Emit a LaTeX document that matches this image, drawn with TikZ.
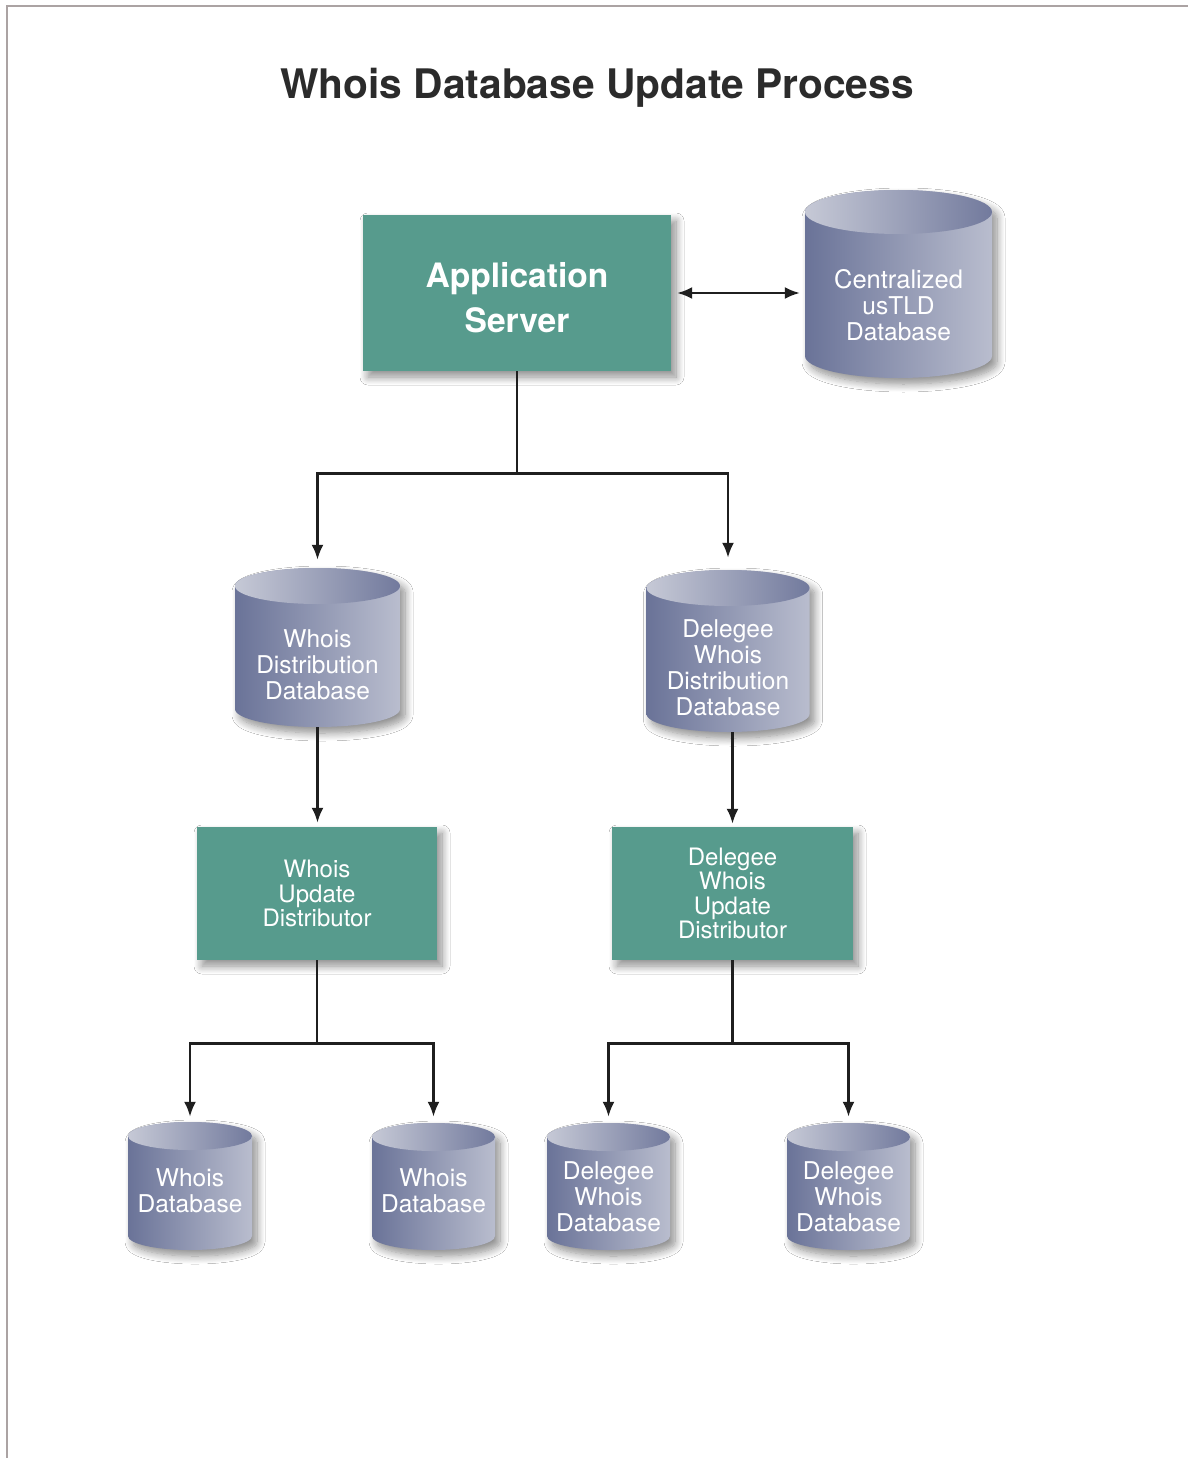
\documentclass[tikz,border=0pt]{standalone}
\usepackage{fontspec}
\setmainfont{TeX Gyre Heros}
\usetikzlibrary{arrows.meta,shadows.blur}
\definecolor{boxteal}{HTML}{579B8D}
\definecolor{cylL}{HTML}{6A7398}
\definecolor{cylR}{HTML}{B9BDCE}
\definecolor{topL}{HTML}{C6C9D6}
\definecolor{topR}{HTML}{727A9D}
\definecolor{titlec}{HTML}{2B2B2B}
\definecolor{framec}{HTML}{ABA3A3}
\tikzset{
  softshadow/.style={blur shadow={shadow xshift=5pt,shadow yshift=-6pt,shadow blur radius=8pt,shadow blur steps=10,shadow opacity=45}},
  procbox/.style={fill=boxteal, draw=none, inner sep=0pt, softshadow, text=white, align=center},
  wire/.style={line width=2.6pt, draw=black!88},
  bigtip/.tip={Latex[length=15pt,width=12pt]},
  arr/.style={wire, -bigtip},
  dbtext/.style={text=white, align=center, inner sep=0pt, font=\fontsize{24.5}{26}\selectfont},
}
\newcommand\dbcyl[8]{%
  \path[softshadow, left color=cylL, right color=cylR]
    (#2-#5,#3+#6) -- (#2-#5,#4-#6)
    arc[start angle=180,end angle=0,x radius=#5,y radius=#6]
    -- (#2+#5,#3+#6)
    arc[start angle=0,end angle=-180,x radius=#5,y radius=#6] -- cycle;
  \path[left color=topL, right color=topR] (#2,#3+#6) ellipse[x radius=#5, y radius=#6];
  \node[inner sep=0pt, minimum width={2*#5*1pt}, minimum height={(#4-#3)*1pt}] (#1) at (#2,{(#3+#4)/2}) {};
  \node[dbtext] (#1-text) at (#2,#7) {#8};
}
\begin{document}
\begin{tikzpicture}[x=1pt,y=-1pt]
\useasboundingbox (0,0) rectangle (1188,1458);
\fill[white] (0,0) rectangle (1188,1458);
\draw[framec, line width=1.5pt] (7,1458) -- (7,6) -- (1188,6);

\node[font=\bfseries\fontsize{40.7}{48}\selectfont, text=titlec] (title) at (597,88) {Whois Database Update Process};

% top row
\node[procbox, minimum width=308pt, minimum height=156pt] (app) at (517,293) {};
\node[text=white, align=center, inner sep=0pt, font=\bfseries\fontsize{33.6}{45}\selectfont] (app-text) at (517,298) {Application\\Server};
\dbcyl{cdb}{898.5}{190}{378}{93.5}{22}{305}{\fontsize{25.5}{26}\selectfont Centralized\\usTLD\\Database}

% middle cylinders
\dbcyl{wdd}{317.5}{568}{727}{82.5}{18}{665}{Whois\\Distribution\\Database}
\dbcyl{dwdd}{728}{570}{732}{81.5}{18}{668}{Delegee\\Whois\\Distribution\\Database}

% distributors
\node[procbox, minimum width=240pt, minimum height=133pt, font=\fontsize{24}{24.5}\selectfont] (wud) at (317,893.5) {Whois\\Update\\Distributor};
\node[procbox, minimum width=241pt, minimum height=133pt, font=\fontsize{24}{24.5}\selectfont] (dwud) at (732.5,893.5) {Delegee\\Whois\\Update\\Distributor};

% bottom cylinders
\dbcyl{wdb1}{190}{1122}{1250}{62}{14}{1191}{Whois\\Database}
\dbcyl{wdb2}{433.5}{1123}{1250}{61.5}{14}{1191}{Whois\\Database}
\dbcyl{dwdb1}{608.5}{1123}{1250}{61.5}{14}{1197}{Delegee\\Whois\\Database}
\dbcyl{dwdb2}{848.5}{1123}{1250}{61.5}{14}{1197}{Delegee\\Whois\\Database}

% connectors
\draw[wire, line width=2.2pt, bigtip-bigtip, shorten <=6pt, shorten >=5pt] (app.east) -- (app.east -| cdb.west);

\path (app.south) ++(0,102) coordinate (j1);
\draw[wire] (app.south) -- (j1);
\draw[arr, shorten >=8pt] (j1) -| (wdd.north);
\draw[arr, shorten >=12pt] (j1) -| (dwdd.north);

\draw[arr, shorten >=4pt] (wdd.south) -- (wdd.south |- wud.north);
\draw[arr, shorten >=3pt] (dwud.north |- dwdd.south) -- (dwud.north);

\path (wud.south) ++(0,83) coordinate (j3);
\draw[wire] (wud.south) -- (j3);
\draw[arr, shorten >=5pt] (j3) -| (wdb1.north);
\draw[arr, shorten >=6pt] (j3) -| (wdb2.north);

\path (dwud.south) ++(0,83) coordinate (j4);
\draw[wire] (dwud.south) -- (j4);
\draw[arr, shorten >=6pt] (j4) -| (dwdb1.north);
\draw[arr, shorten >=6pt] (j4) -| (dwdb2.north);
\end{tikzpicture}
\end{document}
